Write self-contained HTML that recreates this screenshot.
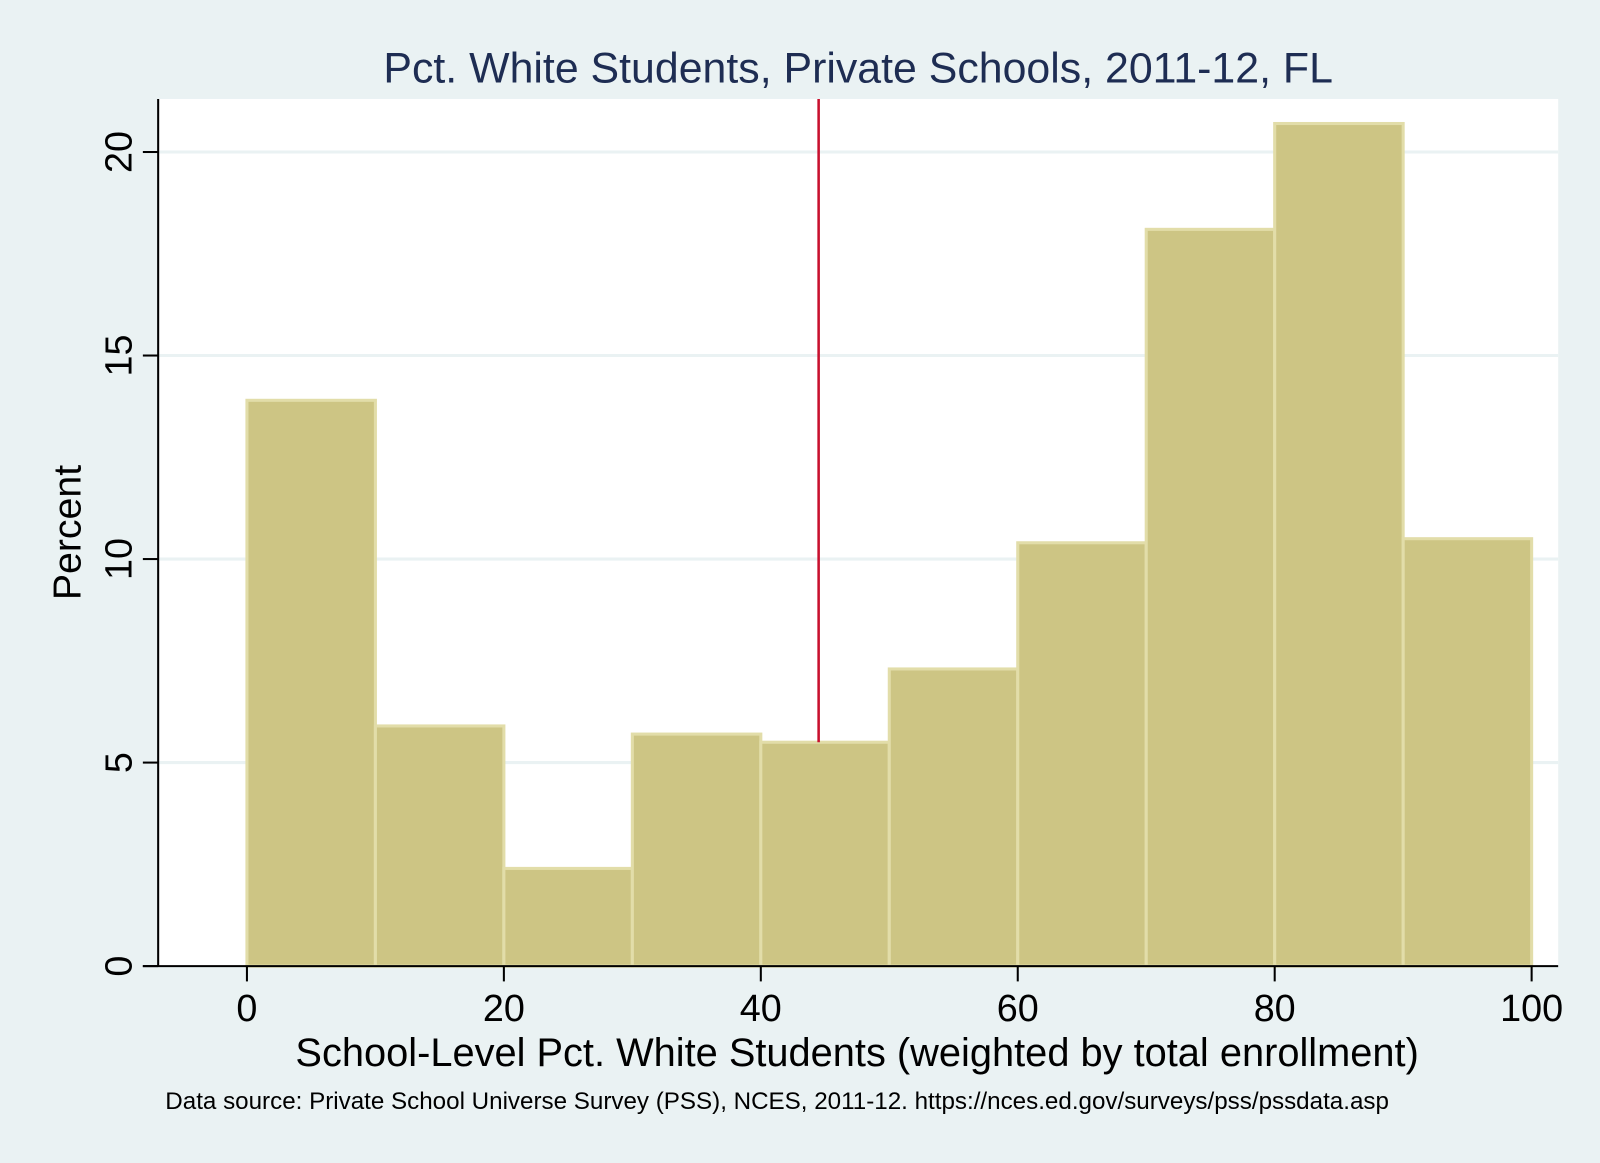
<!DOCTYPE html>
<html><head><meta charset="utf-8"><style>
html,body{margin:0;padding:0;background:#eaf2f3;}
svg{display:block;font-family:"Liberation Sans",Arial,sans-serif;}
</style></head><body>
<svg id="chart" width="1600" height="1163" viewBox="0 0 1568 1140" preserveAspectRatio="none">
<rect x="0" y="0" width="1568" height="1140" fill="#eaf2f3"/>
<rect x="155" y="97" width="1372" height="850" fill="#ffffff"/>
<g id="grid"></g>
<g id="bars"></g>
<g id="refline"></g>
<line x1="155" y1="97" x2="155" y2="947" stroke="#000" stroke-width="2"/>
<line x1="140" y1="947" x2="1527" y2="947" stroke="#000" stroke-width="2"/>
<g id="ticks"></g>
<text x="841" y="81" text-anchor="middle" font-size="42" fill="#1e2d53">Pct. White Students, Private Schools, 2011-12, FL</text>
<text x="840" y="1045" text-anchor="middle" font-size="39" fill="#000">School-Level Pct. White Students (weighted by total enrollment)</text>
<text transform="translate(79,522) rotate(-90)" text-anchor="middle" font-size="38.5" fill="#000">Percent</text>
<text x="162" y="1087" font-size="23.7" fill="#000">Data source: Private School Universe Survey (PSS), NCES, 2011-12. https://nces.ed.gov/surveys/pss/pssdata.asp</text>
</svg>
<script>
const binStarts = [0,10,20,30,40,50,60,70,80,90];
const binWidth = 10;
const percents = [13.9,5.9,2.4,5.7,5.5,7.3,10.4,18.1,20.7,10.5];
const xTicks = [0,20,40,60,80,100];
const yTicks = [0,5,10,15,20];
const meanValue = 44.5;

const NS='http://www.w3.org/2000/svg';
const xs=v=>242+v*(1501-242)/100;
const ys=v=>947-v*(947-149)/20;
function mk(t,a){const e=document.createElementNS(NS,t);for(const k in a)e.setAttribute(k,a[k]);return e;}
const grid=document.getElementById('grid'),bars=document.getElementById('bars'),ticks=document.getElementById('ticks'),ref=document.getElementById('refline');
yTicks.forEach(v=>{
  if(v>0){const g=mk('line',{x1:155,x2:1527,y1:ys(v),y2:ys(v),stroke:'#eaf2f3','stroke-width':3});
  
  
  grid.appendChild(g);}
  const t=mk('line',{x1:140,x2:155,y1:ys(v),y2:ys(v),stroke:'#000','stroke-width':2});
  
  
  ticks.appendChild(t);
  const l=mk('text',{transform:`translate(129,${ys(v)}) rotate(-90)`,'text-anchor':'middle','font-size':37});
  l.textContent=v;
  
  
  ticks.appendChild(l);
});
xTicks.forEach(v=>{
  const t=mk('line',{x1:xs(v),x2:xs(v),y1:947,y2:962,stroke:'#000','stroke-width':2});
  
  
  ticks.appendChild(t);
  const l=mk('text',{x:xs(v),y:1001,'text-anchor':'middle','font-size':37});
  l.textContent=v;
  
  
  ticks.appendChild(l);
});
binStarts.forEach((b,i)=>{
  const x0=xs(b),x1=xs(b+binWidth),y=ys(percents[i]);
  const r=mk('rect',{x:x0,y:y,width:x1-x0,height:947-y,fill:'#cdc584',stroke:'#e2dda9','stroke-width':3});
  
  
  bars.appendChild(r);
});
const m=mk('line',{x1:xs(meanValue),x2:xs(meanValue),y1:97,y2:ys(percents[4]),stroke:'#c8102e','stroke-width':2.5});


ref.appendChild(m);
</script>
</body></html>
